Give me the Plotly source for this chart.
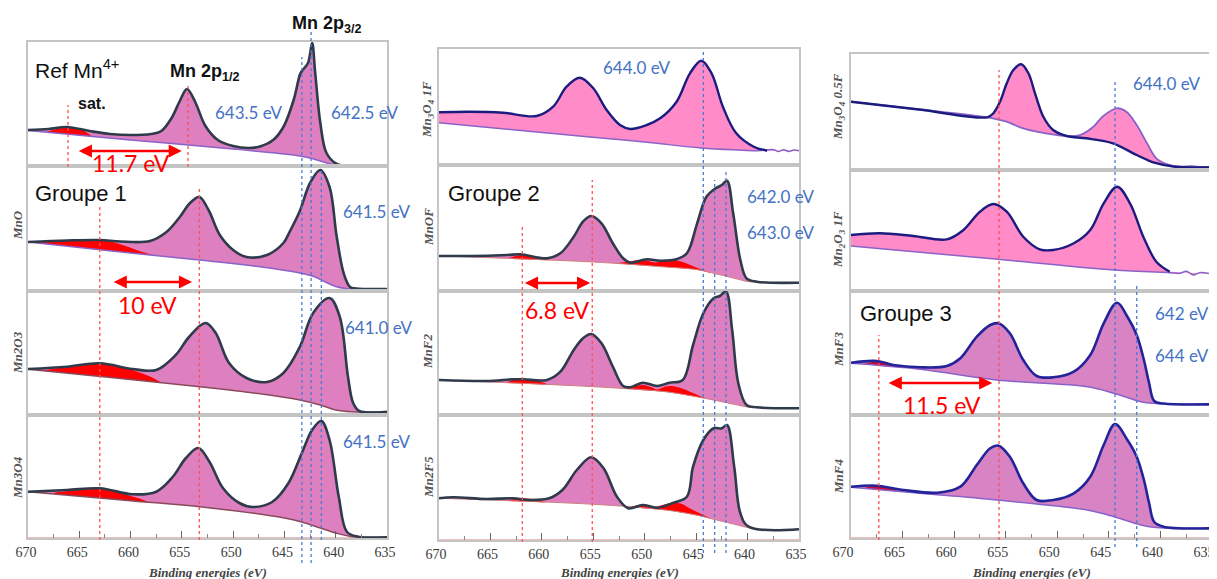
import numpy as np
import plotly.graph_objects as go

# page body has an 8px margin: lay out in reference pixels, shifted by OFF
OFF = 8
W, H = 1217, 579 - OFF

# ---------------- data (binding energy in eV, intensity in a.u.) ----------------
# Column 1
ref_x = [670, 668, 666.2, 664, 662, 660, 658, 657, 656, 655.2, 654.5, 653.7, 652.7, 651.5, 650, 648.5,
         647.4, 646.1, 645.1, 644.1, 643.5, 643.3, 642.7, 642.3, 642.0, 641.5, 640.9, 639.9, 638.8]
ref_y = [36, 37, 39, 35, 32, 31, 32, 35, 48, 65, 77, 64, 40, 26, 20, 18,
         19.5, 26, 39, 66, 91, 95, 103, 123, 93, 43, 13, 2, 0]
ref_bg_x = [670, 660, 650, 645, 643.5, 642.5, 641.5, 640.5, 639.5, 638.8]
ref_bg_y = [35.5, 26, 17, 12, 10, 8, 5, 2, 0.5, 0]
ref_sat_x = [668.2, 667, 666, 665, 663.8]
ref_sat_y = [34, 37.5, 38.5, 37.5, 30]

mno_x = [670, 666.2, 663, 661, 658.1, 656.5, 655.2, 654.2, 653.3, 652.4, 651.3, 650, 648.7, 646.7,
         645.1, 644.5, 643.5, 642.5, 641.5, 640.6, 639.9, 639.2, 638.6, 638, 635]
mno_y = [49, 50.5, 51, 49.5, 50, 59, 74, 88, 94, 81, 56, 41, 34, 36,
         48, 59, 80, 108, 121, 104, 54, 17, 4, 2.5, 2]
mno_bg_x = [670, 660, 653.3, 648, 643.5, 642, 641, 640, 639, 638, 635]
mno_bg_y = [49, 38, 31, 25, 18, 14, 9, 4.5, 2.5, 2, 2]
mno_sat_x = [670, 667, 664, 662, 660.5, 659, 657.8]
mno_sat_y = [49, 50.5, 51, 49.5, 45, 39.5, 36]

mn2o3_x = [670, 666.2, 663, 659.8, 657.5, 655.6, 654.3, 652.7, 651.7, 650.4, 648.7, 646.7, 645.1,
           643.5, 642.2, 640.6, 639.6, 638.8, 638.3, 637.7, 635]
mn2o3_y = [46, 48.3, 51.7, 46, 45, 60, 78, 92, 82, 52, 37, 33, 42,
           68, 102, 117, 98, 38, 12, 4, 3.3]
mn2o3_bg_x = [670, 660, 653, 648, 643.5, 641.5, 640, 638.5, 635]
mn2o3_bg_y = [45.7, 35.5, 28, 22, 15, 10, 5, 3.3, 3.3]
mn2o3_sat_x = [668.5, 666, 663, 661, 659.5, 658, 657.1]
mn2o3_sat_y = [44.5, 48.5, 51.7, 49, 44, 38, 33]

mn3o4_x = [670, 666.2, 663, 659.8, 657.5, 655.9, 654.6, 653.4, 652.3, 651, 649.4, 648.1, 646.2,
           644.6, 643.3, 642.3, 641.4, 640.6, 639.7, 638.9, 637.8, 635]
mn3o4_y = [46.3, 48, 49.7, 43.7, 46.3, 61, 80, 90, 76, 50, 35, 31, 36,
           55, 85, 108, 117, 98, 41, 6, 1.3, 0.7]
mn3o4_bg_x = [670, 660, 653, 645, 643.3, 641.5, 640, 638.5, 635]
mn3o4_bg_y = [46.3, 37.3, 31, 20, 16, 10, 5, 1.5, 0.7]
mn3o4_sat_x = [667.4, 666, 664, 663, 662, 661, 660, 659, 658.4]
mn3o4_sat_y = [45.5, 47, 49, 49.7, 48, 45, 42, 39, 36.5]

# Column 2
mn3o4_1f_x = [670, 667, 663.8, 660.5, 658.9, 657.6, 656.3, 655, 653.7, 652.4, 651.4, 649.8, 648.5,
              646.9, 645.6, 644.5, 643.5, 642.4, 641.1, 639.4, 638.1]
mn3o4_1f_y = [52.7, 53.3, 52.3, 49, 58.3, 78.3, 87.3, 76.7, 55, 40, 36, 40, 46.7,
              63.3, 91.7, 104.3, 91.7, 58.3, 31.7, 18.3, 14.3]
mn3o4_1f_bg_x = [670, 660, 655.6, 650, 644.5, 641, 639, 637.5, 637, 636.5, 636, 635.5, 635]
mn3o4_1f_bg_y = [42.3, 32.5, 28.3, 23, 17, 15, 14.3, 15.3, 13.6, 15.3, 13.6, 15, 14.2]

mnof_x = [670, 667, 663.4, 662.1, 659.5, 658.2, 656.9, 656, 655.2, 654.2, 653.1, 652.1, 651.4, 649.8,
          648.5, 646.9, 645.9, 644.9, 644, 643.1, 642.5, 642, 641.4, 640.7, 640.1, 639.1, 635]
mnof_y = [35, 35, 36, 36.7, 32.7, 37.7, 54.3, 69.3, 75, 67.7, 47.7, 32.7, 28.3, 31.7,
          30.3, 31.7, 37.7, 67.7, 94.3, 102.7, 106, 110.3, 77.7, 31, 12.7, 9.3, 8.3]
mnof_bg_x = [670, 655, 648, 645, 643, 641, 640, 639, 635]
mnof_bg_y = [35, 29, 24, 21.5, 17, 12, 9.5, 8.8, 8.3]
mnof_sat1_x = [663.3, 662, 660.5, 659.2]
mnof_sat1_y = [32.5, 36, 34, 30.8]
mnof_sat2_x = [652.8, 651.5, 650.5, 649.8, 649, 648, 647.3, 646.3, 645, 643.5]
mnof_sat2_y = [27.7, 29.5, 31, 30.5, 28.5, 30.5, 31, 29, 23.5, 18]

mnf2_x = [670, 665.4, 662.8, 661.8, 659.5, 658.2, 656.9, 656, 655.2, 654.2, 653.1, 652.1, 651.4, 650.2,
          648.8, 647.6, 646.3, 645.3, 644.3, 643.3, 642.7, 642.1, 641.5, 640.9, 640.1, 639.1, 635]
mnf2_y = [35, 34, 35.7, 35.7, 35, 43.3, 65, 76.7, 81, 71.7, 48.3, 29, 27.7, 32.3,
          29, 32.3, 35, 70, 101.7, 116.7, 119, 123.3, 85, 31.7, 10, 7.7, 6.7]
mnf2_bg_x = [670, 655, 648, 645, 643, 641, 640, 639, 635]
mnf2_bg_y = [35, 28.3, 23.3, 18.3, 14.3, 10, 8, 7.3, 6.7]
mnf2_sat1_x = [663.6, 662.5, 661.5, 660.5, 659.4]
mnf2_sat1_y = [32, 35.5, 36, 34.5, 30.5]
mnf2_sat2_x = [652.4, 651.3, 650.2, 649.3, 648.8, 648, 647.4, 646.5, 645.3, 644.1]
mnf2_sat2_y = [26.2, 28, 30, 27.5, 25.5, 28.5, 29, 27, 22, 16.5]

mn2f5_x = [670, 668.6, 665.4, 662.8, 661.2, 659.3, 658, 656.6, 655.2, 654, 652.7, 651.6, 650.2,
           648.8, 647.2, 645.9, 645.3, 644.3, 643.3, 642.5, 642, 641.3, 640.7, 639.9, 635]
mn2f5_y = [41.7, 42.7, 41, 41.7, 40, 41.7, 50, 70, 82.7, 71.7, 43.3, 31.7, 35,
           32.3, 37.3, 43.3, 73.3, 100, 111.7, 111.7, 115, 73.3, 26.7, 13.3, 10.7]
mn2f5_bg_x = [670, 655, 648, 645, 643, 641, 640, 639, 635]
mn2f5_bg_y = [41.7, 35.7, 30, 25, 20, 15, 12.5, 11, 10.7]
mn2f5_sat1_x = [663.6, 662.5, 661.8, 660.5, 659.6]
mn2f5_sat1_y = [39, 41.3, 41.7, 40.3, 37.5]
mn2f5_sat2_x = [651.4, 650.2, 649.3, 648.8, 647.5, 646.5, 645.5, 644.3, 643.3]
mn2f5_sat2_y = [33.2, 35, 33, 33.5, 37, 36.5, 31, 25, 20.5]

# Column 3
mn3o4_05f_x = [670, 663.4, 656.8, 656.2, 655.55, 654.9, 654.26, 653.5, 652.8, 652.16, 651.35, 650.4,
               649.1, 647.2, 644.6, 642.3, 640.6, 638.6, 635]
mn3o4_05f_y = [68.3, 60.5, 52.7, 56.7, 68.3, 86.7, 100, 105.7, 96.7, 76.7, 53.3, 40,
               34, 31.7, 26.7, 15, 7.3, 3.3, 2.7]
mn3o4_05f_env_x = [670, 663.4, 656.8, 654.9, 653.6, 652, 649.1, 647.8, 646.5, 645.54, 644.24, 643.3,
                   642.3, 641.3, 640.4, 639.4, 638.1, 637, 636, 635]
mn3o4_05f_env_y = [68.3, 60.5, 52.7, 48.3, 42.7, 38.3, 34, 35, 43.3, 54, 61.7, 58.3,
                   45, 26.7, 11.7, 6, 3.3, 3.8, 3, 3.3]

mn2o3_1f_x = [670, 667.2, 663.96, 660.7, 659.1, 657.5, 656.2, 654.9, 653.3, 651.7, 650.4, 648.4,
              646.8, 645.5, 644.2, 642.95, 641.66, 640.4, 639.1]
mn2o3_1f_y = [56, 57.7, 55, 51.7, 61, 79.3, 87, 79.3, 54.3, 41.7, 41, 47.7,
              61, 87.7, 104.3, 87.7, 54.3, 29.3, 19.3]
mn2o3_1f_bg_x = [670, 656.84, 644.5, 639.1, 638.1, 637.5, 636.8, 636.2, 635]
mn2o3_1f_bg_y = [45, 32.7, 21, 18.3, 17.7, 19.7, 16, 18.3, 17]

mnf3_x = [670, 667.5, 665.9, 663.3, 660.7, 659.4, 657.8, 656.5, 655.7, 654.6, 653.3, 652, 650.4,
          648.4, 646.8, 645.5, 644.2, 643.2, 642.3, 641.6, 641.1, 640.6, 639.7, 635]
mnf3_y = [52.3, 54, 50, 47.7, 49, 56.7, 78.3, 90, 91.7, 81.7, 55, 39, 37.7,
          43.3, 60, 91.7, 112.3, 98.3, 80, 55, 32, 14, 11.5, 10.7]
mnf3_bg_x = [670, 663.3, 655.9, 647.1, 644.5, 641.9, 640.7, 635]
mnf3_bg_y = [51.7, 45.7, 35, 28.3, 21.7, 13.3, 11.7, 10.7]
mnf3_sat_x = [668.8, 667.5, 666.5, 665.5]
mnf3_sat_y = [50.8, 53.5, 52.5, 48]

mnf4_x = [670, 667.5, 664.9, 661.6, 659.4, 657.8, 656.5, 655.7, 654.6, 653.3, 652, 650.4, 648.4,
          646.8, 645.5, 644.4, 643.2, 642.3, 641.6, 641.1, 640.6, 639.7, 635]
mnf4_y = [51.3, 52.3, 48, 45.3, 51.3, 73, 89.7, 92.3, 81.3, 54.7, 38, 38, 44.7,
          61.3, 93, 114, 98, 81.3, 58, 35, 16, 11.3, 9.7]
mnf4_bg_x = [670, 663.3, 655.9, 647.1, 644.5, 641.9, 640.7, 635]
mnf4_bg_y = [50.7, 44.7, 38, 28, 21.3, 13, 10.7, 9.7]
mnf4_sat_x = [668.8, 667.5, 666.5, 665.5]
mnf4_sat_y = [49.8, 52.5, 51.5, 47.2]

x_ticks = [670, 665, 660, 655, 650, 645, 640, 635]

# ---------------- styling ----------------
PINK = "#de80c0"
PINK2 = "#ff8bc8"
PINK3 = "#d883c4"
RED = "#ff0000"
DARKRED = "#cc0a35"
GREY_LINE = "#2f3b4b"
NAVY = "#1c1c80"
NAVY3 = "#23239a"
PURPLE = "#8a62c8"
BROWN = "#8a4a5c"
FRAME = "#c4c4c4"
BLUE = "#4472c4"

cols = {1: (28, 387), 2: (439, 799), 3: (851, 1212)}
# axis is reversed, so a positive shift moves labels to the left
label_shift = {1: 2, 2: 3, 3: 8}
# panel id -> (column, top px, bottom px) in reference pixels
panels = {
    1: (1, 42, 166), 2: (1, 166, 291), 3: (1, 291, 415), 4: (1, 415, 538),
    5: (2, 49, 165), 6: (2, 165, 291), 7: (2, 291, 415), 8: (2, 415, 540),
    9: (3, 54, 170), 10: (3, 170, 291), 11: (3, 291, 415), 12: (3, 415, 538),
}
bottom_panel = {1: 4, 2: 8, 3: 12}


def px(x):
    return (x - OFF) / W


def py(y):
    return 1 - (y - OFF) / H


fig = go.Figure()


def axn(k, a):
    return a if k == 1 else f"{a}{k}"


def add_panel(k, sx, sy, bx, by, sats, fill, lcol, lw, bcol, bw, satcol):
    xa, ya = axn(k, "x"), axn(k, "y")
    common = dict(xaxis=xa, yaxis=ya, hoverinfo="skip", showlegend=False, mode="lines")
    fig.add_trace(go.Scatter(x=bx, y=by, line=dict(width=0, shape="spline"), **common))
    fig.add_trace(go.Scatter(x=sx, y=sy, line=dict(width=0, shape="spline"),
                             fill="tonexty", fillcolor=fill, **common))
    bxa, bya = np.array(bx, float)[::-1], np.array(by, float)[::-1]
    for tx, ty in sats:
        base = np.interp(np.array(tx, float), bxa, bya)
        fig.add_trace(go.Scatter(x=tx, y=base, line=dict(width=0, shape="spline"), **common))
        fig.add_trace(go.Scatter(x=tx, y=ty, line=dict(width=0, shape="spline"),
                                 fill="tonexty", fillcolor=satcol, **common))
    fig.add_trace(go.Scatter(x=bx, y=by, line=dict(width=bw, color=bcol, shape="spline"), **common))
    fig.add_trace(go.Scatter(x=sx, y=sy, line=dict(width=lw, color=lcol, shape="spline"), **common))


add_panel(1, ref_x, ref_y, ref_bg_x, ref_bg_y, [(ref_sat_x, ref_sat_y)], PINK, GREY_LINE, 2.6, PURPLE, 1.5, RED)
add_panel(2, mno_x, mno_y, mno_bg_x, mno_bg_y, [(mno_sat_x, mno_sat_y)], PINK, GREY_LINE, 2.6, PURPLE, 1.5, RED)
add_panel(3, mn2o3_x, mn2o3_y, mn2o3_bg_x, mn2o3_bg_y, [(mn2o3_sat_x, mn2o3_sat_y)], PINK, GREY_LINE, 2.6, BROWN, 1.5, RED)
add_panel(4, mn3o4_x, mn3o4_y, mn3o4_bg_x, mn3o4_bg_y, [(mn3o4_sat_x, mn3o4_sat_y)], PINK, GREY_LINE, 2.6, BROWN, 1.5, RED)

add_panel(5, mn3o4_1f_x, mn3o4_1f_y, mn3o4_1f_bg_x, mn3o4_1f_bg_y, [], PINK2, NAVY, 2.4, PURPLE, 1.5, RED)
add_panel(6, mnof_x, mnof_y, mnof_bg_x, mnof_bg_y, [(mnof_sat1_x, mnof_sat1_y), (mnof_sat2_x, mnof_sat2_y)],
          PINK, GREY_LINE, 2.6, "#d08080", 1.0, RED)
add_panel(7, mnf2_x, mnf2_y, mnf2_bg_x, mnf2_bg_y, [(mnf2_sat1_x, mnf2_sat1_y), (mnf2_sat2_x, mnf2_sat2_y)],
          PINK, GREY_LINE, 2.6, "#d08080", 1.0, RED)
add_panel(8, mn2f5_x, mn2f5_y, mn2f5_bg_x, mn2f5_bg_y, [(mn2f5_sat1_x, mn2f5_sat1_y), (mn2f5_sat2_x, mn2f5_sat2_y)],
          PINK, GREY_LINE, 2.6, "#d08080", 1.0, RED)

add_panel(9, mn3o4_05f_x, mn3o4_05f_y, mn3o4_05f_env_x, mn3o4_05f_env_y, [], PINK2, NAVY, 2.4, PURPLE, 1.8, RED)
add_panel(10, mn2o3_1f_x, mn2o3_1f_y, mn2o3_1f_bg_x, mn2o3_1f_bg_y, [], PINK2, NAVY, 2.4, PURPLE, 1.5, RED)
add_panel(11, mnf3_x, mnf3_y, mnf3_bg_x, mnf3_bg_y, [(mnf3_sat_x, mnf3_sat_y)], PINK3, NAVY3, 2.6, PURPLE, 1.5, DARKRED)
add_panel(12, mnf4_x, mnf4_y, mnf4_bg_x, mnf4_bg_y, [(mnf4_sat_x, mnf4_sat_y)], PINK3, NAVY3, 2.6, PURPLE, 1.5, DARKRED)

# ---------------- axes ----------------
layout_axes = {}
for k, (c, top, bot) in panels.items():
    x0, x1 = cols[c]
    is_bottom = bottom_panel[c] == k
    xa = dict(domain=[px(x0), px(x1)], range=[670, 635], anchor=axn(k, "y"), automargin=False,
              showgrid=False, zeroline=False, showline=True, mirror=True,
              linecolor=FRAME, linewidth=1.5)
    if is_bottom:
        xa.update(tickmode="array", tickvals=x_ticks, ticks="inside", ticklen=7, tickwidth=1.2,
                  tickcolor="#666", showticklabels=True, ticklabeloverflow="allow",
                  ticklabelshift=label_shift[c],
                  tickfont=dict(family="Liberation Serif", size=14, color="#3a3a3a"),
                  minor=dict(dtick=2.5, tick0=635, ticks="inside", ticklen=4, tickcolor="#888"))
    else:
        xa.update(showticklabels=False, ticks="")
    ya = dict(domain=[py(bot), py(top)], range=[0, bot - top], anchor=axn(k, "x"),
              automargin=False, showgrid=False, zeroline=False, showticklabels=False, ticks="",
              showline=True, mirror=True, linecolor=FRAME, linewidth=1.5)
    layout_axes[axn(k, "xaxis")] = xa
    layout_axes[axn(k, "yaxis")] = ya

fig.update_layout(width=W, height=H, autosize=False,
                  margin=dict(l=0, r=0, t=0, b=0, pad=0, autoexpand=False),
                  plot_bgcolor="white", paper_bgcolor="white", **layout_axes)

# ---------------- reference lines ----------------
shapes = []


def vline(c, ev, ytop, ybot, color):
    xr = axn(bottom_panel[c], "x")
    shapes.append(dict(type="line", xref=xr, yref="paper", x0=ev, x1=ev,
                       y0=py(ybot), y1=py(ytop),
                       line=dict(color=color, width=1.3, dash="dot")))


RL = "#ff5050"
BL = "#4a7bd0"
vline(1, 666.1, 105, 167, RL)
vline(1, 654.4, 83, 167, RL)
vline(1, 663.0, 205, 540, RL)
vline(1, 653.3, 188, 540, RL)
vline(1, 643.3, 57, 563, BL)
vline(1, 642.4, 32, 563, BL)
vline(1, 641.4, 170, 540, BL)
vline(2, 661.9, 227, 542, RL)
vline(2, 655.1, 180, 542, RL)
vline(2, 644.3, 49, 553, BL)
vline(2, 643.2, 180, 553, BL)
vline(2, 642.1, 172, 553, BL)
vline(3, 655.65, 70, 540, RL)
vline(3, 667.3, 335, 540, RL)
vline(3, 644.4, 82, 547, BL)
vline(3, 642.3, 283, 547, BL)

# faint pinkish baseline along the bottom axes
for c in cols:
    k = bottom_panel[c]
    bot = panels[k][2]
    shapes.append(dict(type="line", xref=axn(k, "x"), yref="paper", x0=670, x1=635,
                       y0=py(bot), y1=py(bot), layer="below",
                       line=dict(color="#eaa8a8", width=1.5)))
fig.update_layout(shapes=shapes)

# ---------------- annotations ----------------
ann = []


def txt(x, y, text, size, color="#111", family="Liberation Sans", xanchor="center", angle=0):
    ann.append(dict(x=px(x), y=py(y), xref="paper", yref="paper", text=text, showarrow=False,
                    xanchor=xanchor, yanchor="middle", textangle=angle,
                    font=dict(family=family, size=size, color=color)))


def arrow(k, e0, e1, level):
    xa, ya = axn(k, "x"), axn(k, "y")
    ann.append(dict(x=e1, y=level, ax=e0, ay=level, xref=xa, yref=ya, axref=xa, ayref=ya,
                    text="", showarrow=True, arrowhead=2, arrowside="end+start",
                    arrowsize=1.1, arrowwidth=2.4, arrowcolor=RED, standoff=0, startstandoff=0))


CAL = "Lato"
txt(327, 24, "<b>Mn 2p<sub>3/2</sub></b>", 18)
txt(33, 69, "Ref Mn<sup>4+</sup>", 21, xanchor="left")
txt(205, 72, "<b>Mn 2p<sub>1/2</sub></b>", 18)
txt(92, 103, "<b>sat.</b>", 16)
txt(249, 112, "643.5 eV", 17, BLUE, CAL)
txt(365, 112, "642.5 eV", 17, BLUE, CAL)
txt(131, 163, "11.7 eV", 23, RED, CAL)
txt(33, 193, "Groupe 1", 22, xanchor="left")
txt(341, 211, "641.5 eV", 17, BLUE, CAL, xanchor="left")
txt(147, 305, "10 eV", 23, RED, CAL)
txt(343, 327, "641.0 eV", 17, BLUE, CAL, xanchor="left")
txt(341, 441, "641.5 eV", 17, BLUE, CAL, xanchor="left")

txt(637, 67, "644.0 eV", 17, BLUE, CAL)
txt(446, 193, "Groupe 2", 22, xanchor="left")
txt(745, 197, "642.0 eV", 17, BLUE, CAL, xanchor="left")
txt(745, 232, "643.0 eV", 17, BLUE, CAL, xanchor="left")
txt(557, 310, "6.8 eV", 23, RED, CAL)

txt(1167, 83, "644.0 eV", 17, BLUE, CAL)
txt(858, 313, "Groupe 3", 22, xanchor="left")
txt(1182, 313, "642 eV", 17, BLUE, CAL)
txt(1182, 355, "644 eV", 17, BLUE, CAL)
txt(942, 405, "11.5 eV", 23, RED, CAL)

arrow(1, 665.2, 655.0, 15)
arrow(2, 661.8, 654.0, 9)
arrow(6, 661.8, 655.3, 8)
arrow(11, 666.5, 656.3, 32)

SER = "Liberation Serif"
ylabels = [
    (17, 225, "<i>MnO</i>"), (17, 353, "<i>Mn2O3</i>"), (17, 478, "<i>Mn3O4</i>"),
    (428, 110, "<i>Mn<sub>3</sub>O<sub>4</sub> 1F</i>"), (428, 227, "<i>MnOF</i>"),
    (428, 352, "<i>MnF2</i>"), (428, 477, "<i>Mn2F5</i>"),
    (838, 107, "<i>Mn<sub>3</sub>O<sub>4</sub> 0.5F</i>"), (838, 240, "<i>Mn<sub>2</sub>O<sub>3</sub> 1F</i>"),
    (838, 350, "<i>MnF3</i>"), (838, 477, "<i>MnF4</i>"),
]
for x, y, t in ylabels:
    txt(x, y, "<b>" + t + "</b>", 13, "#555", SER, angle=-90)

for c, (x0, x1) in cols.items():
    txt((x0 + x1) / 2, 572, "<b><i>Binding energies (eV)</i></b>", 13, "#444", SER)

fig.update_layout(annotations=ann)

fig.write_html("out.html")
